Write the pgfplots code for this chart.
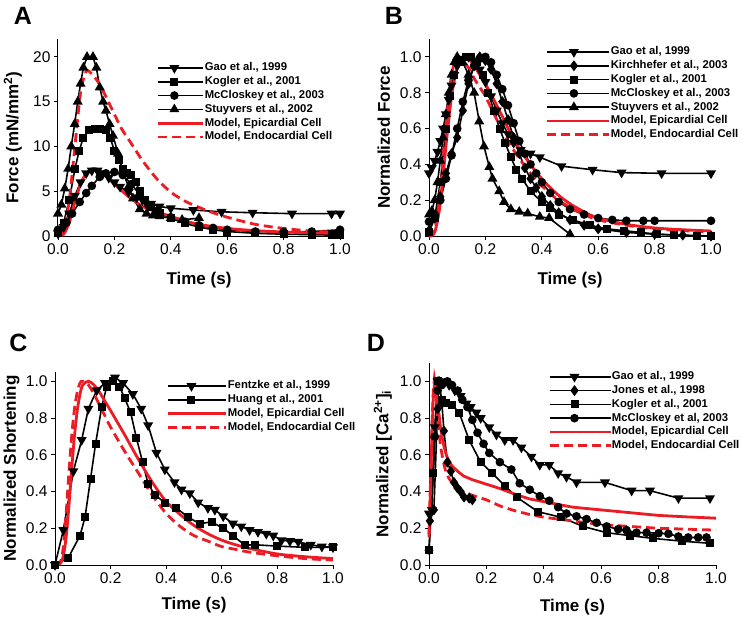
\documentclass[border=0pt]{standalone}
\usepackage{fontspec}
\setmainfont{Liberation Sans}
\usepackage{pgfplots}
\pgfplotsset{compat=1.18}
\definecolor{mred}{RGB}{237,28,36}
\pgfplotsset{
 panel/.style={
  scale only axis,
  axis x line*=bottom, axis y line*=left,
  xmin=0, xmax=1,
  xtick={0,0.2,0.4,0.6,0.8,1.0},
  tick align=outside,
  major tick length=4pt,
  tick style={black, line width=0.9pt},
  axis line style={black, line width=1pt},
  /pgf/number format/assume math mode=true,
  xticklabel style={/pgf/number format/.cd,fixed,fixed zerofill,precision=1},
  tick label style={font=\fontsize{15.5}{17}\selectfont},
  label style={font=\bfseries\fontsize{17}{20}\selectfont},
  clip=false,
  legend cell align=left,
  legend style={draw=none, fill=none, anchor=north west, inner sep=0pt, outer sep=0pt,
    font=\bfseries\fontsize{11.3}{13}\selectfont,
    nodes={inner sep=0pt, text height=8.5pt, text depth=2.5pt},
    row sep=2.8pt},
 },
 normy/.style={ytick={0,0.2,0.4,0.6,0.8,1.0},
   yticklabel style={/pgf/number format/.cd,fixed,fixed zerofill,precision=1}},
 leg/.style 2 args={legend image code/.code={%
   \draw[mark repeat=2,mark phase=2,##1] plot coordinates {(0pt,0pt) ({0.5*#1},0pt) (#1,0pt)};
   \path (0pt,0pt) -- (#2,0pt);}},
 dat/.style={black, line width=1.6pt},
 mdown/.style={dat, mark=triangle*, mark size=4.2pt, mark options={solid,fill=black,rotate=180}},
 mup/.style={dat, mark=triangle*, mark size=4.2pt, mark options={solid,fill=black}},
 msq/.style={dat, mark=square*, mark size=3.2pt, mark options={solid,fill=black}},
 mci/.style={dat, mark=*, mark size=3.5pt, mark options={solid,fill=black}},
 mdi/.style={dat, mark=diamond*, mark size=4.2pt, mark options={solid,fill=black}},
 epi/.style={mred, line width=2.8pt, no marks},
 endo/.style={mred, line width=2.8pt, no marks, dash pattern=on 9pt off 5pt},
}
\begin{document}
\begin{tikzpicture}
\path[use as bounding box] (0pt,0pt) rectangle (742pt,-621pt);
% ---------------- A
\begin{axis}[panel, at={(58pt,-236pt)}, anchor=south west, width=282pt, height=197pt,
  ymin=0, ymax=22, ytick={0,5,10,15,20},
  xlabel={Time (s)}, ylabel={Force (mN/mm\textsuperscript{2})},
  xlabel style={at={(axis description cs:0.5,-0.223)}, anchor=center},
  ylabel style={at={(axis description cs:-0.16,0.5)}, anchor=center},
  leg={32pt}{45pt}, legend style={at={(0.351,0.881)}}]
\addplot[mdown] coordinates {(0,0.3)(0.02,1.0)(0.04,2.5)(0.06,4.5)(0.08,6.0)(0.1,7.0)(0.12,7.3)(0.14,7.3)(0.16,7.0)(0.18,6.5)(0.2,6.0)(0.22,5.5)(0.25,4.9)(0.28,4.3)(0.3,4.0)(0.33,3.6)(0.36,3.3)(0.4,3.1)(0.48,2.9)(0.58,2.7)(0.69,2.6)(0.83,2.5)(0.97,2.5)(1.0,2.5)};
\addlegendentry{Gao et al., 1999}
\addplot[msq] coordinates {(0,0.3)(0.02,1.5)(0.04,4.0)(0.06,7.5)(0.075,9.5)(0.09,11.0)(0.11,11.8)(0.13,12.0)(0.15,12.0)(0.17,11.8)(0.185,11.0)(0.2,9.5)(0.215,8.5)(0.23,7.5)(0.245,7.0)(0.26,6.8)(0.275,6.0)(0.29,5.0)(0.31,4.0)(0.33,3.2)(0.36,2.6)(0.4,2.0)(0.45,1.4)(0.5,1.0)(0.55,0.7)(0.6,0.5)(0.7,0.3)(0.8,0.2)(0.9,0.15)(0.97,0.1)(1.0,0.1)};
\addlegendentry{Kogler et al., 2001}
\addplot[mci] coordinates {(0,0.7)(0.03,1.5)(0.05,2.5)(0.077,3.8)(0.1,4.8)(0.12,5.6)(0.148,6.6)(0.17,7.0)(0.2,7.15)(0.23,6.8)(0.26,5.8)(0.29,4.6)(0.32,3.5)(0.35,2.8)(0.4,2.1)(0.45,1.6)(0.5,1.2)(0.55,0.9)(0.6,0.7)(0.7,0.5)(0.8,0.45)(0.9,0.5)(1.0,0.7)};
\addlegendentry{McCloskey et al., 2003}
\addplot[mup] coordinates {(0,2.5)(0.012,3.5)(0.024,5.3)(0.036,7.5)(0.047,10.0)(0.059,12.5)(0.07,15.0)(0.08,17.0)(0.09,18.8)(0.103,20.0)(0.124,20.0)(0.136,18.8)(0.148,16.6)(0.16,15.0)(0.17,14.0)(0.183,12.5)(0.195,11.2)(0.213,9.2)(0.23,7.2)(0.25,5.5)(0.266,4.2)(0.29,3.0)(0.314,2.5)(0.337,2.3)(0.36,2.2)(0.4,2.0)(0.44,1.8)(0.5,2.0)};
\addlegendentry{Stuyvers et al., 2002}
\addplot[epi, smooth] coordinates {(0,0)(0.02,0.2)(0.04,1.5)(0.06,3.8)(0.08,5.8)(0.1,7.0)(0.12,7.5)(0.14,7.4)(0.16,7.0)(0.18,6.4)(0.2,5.8)(0.25,4.4)(0.3,3.3)(0.35,2.7)(0.4,2.2)(0.45,1.7)(0.5,1.3)(0.6,0.85)(0.7,0.6)(0.8,0.45)(0.9,0.35)(1.0,0.3)};
\addlegendentry{Model, Epicardial Cell}
\addplot[endo, smooth] coordinates {(0,0)(0.02,0.5)(0.04,4.0)(0.06,10.0)(0.08,16.0)(0.1,18.4)(0.12,18.1)(0.14,17.3)(0.16,16.2)(0.18,14.9)(0.2,13.6)(0.225,12.0)(0.25,10.8)(0.275,9.6)(0.3,8.4)(0.35,6.4)(0.4,4.9)(0.45,3.9)(0.5,3.2)(0.55,2.6)(0.6,2.1)(0.7,1.3)(0.8,0.85)(0.9,0.55)(1.0,0.4)};
\addlegendentry{Model, Endocardial Cell}
\end{axis}
% ---------------- B
\begin{axis}[panel, normy, at={(429pt,-236pt)}, anchor=south west, width=282pt, height=197pt,
  ymin=0, ymax=1.1,
  xlabel={Time (s)}, ylabel={Normalized Force},
  xlabel style={at={(axis description cs:0.5,-0.223)}, anchor=center},
  ylabel style={at={(axis description cs:-0.16,0.5)}, anchor=center},
  leg={53pt}{62pt}, legend style={at={(0.415,0.962)}}]
\addplot[mdown] coordinates {(0,0.35)(0.01,0.38)(0.02,0.42)(0.03,0.47)(0.04,0.53)(0.05,0.6)(0.06,0.68)(0.07,0.76)(0.08,0.84)(0.09,0.9)(0.1,0.95)(0.12,0.99)(0.14,1.0)(0.16,0.98)(0.18,0.93)(0.2,0.86)(0.22,0.78)(0.24,0.7)(0.26,0.63)(0.28,0.57)(0.3,0.52)(0.325,0.48)(0.36,0.46)(0.393,0.44)(0.47,0.39)(0.58,0.37)(0.683,0.354)(0.825,0.35)(1.0,0.35)};
\addlegendentry{Gao et al, 1999}
\addplot[mdi] coordinates {(0,0.03)(0.02,0.1)(0.04,0.22)(0.06,0.35)(0.08,0.46)(0.1,0.55)(0.12,0.7)(0.14,0.85)(0.16,0.95)(0.18,1.0)(0.2,0.98)(0.22,0.93)(0.24,0.85)(0.26,0.75)(0.28,0.65)(0.3,0.55)(0.32,0.46)(0.34,0.38)(0.36,0.32)(0.38,0.27)(0.4,0.22)(0.43,0.17)(0.46,0.13)(0.5,0.09)(0.55,0.06)(0.6,0.04)(0.7,0.02)(0.8,0.01)(0.9,0.005)(1.0,0)};
\addlegendentry{Kirchhefer et al., 2003}
\addplot[msq] coordinates {(0,0.02)(0.02,0.1)(0.04,0.3)(0.06,0.6)(0.075,0.78)(0.09,0.9)(0.11,0.97)(0.13,1.0)(0.15,1.0)(0.17,0.97)(0.19,0.9)(0.21,0.8)(0.23,0.7)(0.25,0.6)(0.27,0.52)(0.29,0.44)(0.31,0.37)(0.33,0.32)(0.36,0.25)(0.4,0.19)(0.43,0.155)(0.46,0.12)(0.51,0.09)(0.57,0.06)(0.63,0.04)(0.69,0.03)(0.75,0.02)(0.81,0.01)(0.87,0.005)(0.95,0)(1.0,0)};
\addlegendentry{Kogler et al., 2001}
\addplot[mci] coordinates {(0,0.08)(0.02,0.12)(0.04,0.2)(0.06,0.32)(0.08,0.45)(0.1,0.6)(0.12,0.75)(0.14,0.87)(0.16,0.95)(0.18,0.99)(0.2,1.0)(0.22,0.97)(0.24,0.9)(0.26,0.82)(0.28,0.73)(0.3,0.63)(0.32,0.53)(0.34,0.46)(0.36,0.4)(0.38,0.35)(0.4,0.3)(0.43,0.24)(0.46,0.19)(0.5,0.15)(0.55,0.12)(0.6,0.1)(0.65,0.09)(0.7,0.085)(0.76,0.085)(0.8,0.085)(1.0,0.085)};
\addlegendentry{McCloskey et al., 2003}
\addplot[mup] coordinates {(0,0.12)(0.01,0.14)(0.02,0.2)(0.03,0.3)(0.04,0.42)(0.05,0.55)(0.06,0.68)(0.07,0.8)(0.08,0.9)(0.09,0.97)(0.1,1.0)(0.12,0.97)(0.14,0.9)(0.16,0.8)(0.178,0.64)(0.195,0.5)(0.214,0.385)(0.225,0.32)(0.249,0.25)(0.266,0.19)(0.29,0.15)(0.32,0.135)(0.35,0.126)(0.393,0.107)(0.426,0.1)(0.5,0.01)};
\addlegendentry{Stuyvers et al., 2002}
\addplot[epi, smooth] coordinates {(0,0)(0.02,0.02)(0.04,0.18)(0.06,0.5)(0.08,0.78)(0.1,0.94)(0.12,1.0)(0.14,0.99)(0.16,0.95)(0.18,0.9)(0.2,0.85)(0.25,0.7)(0.3,0.54)(0.35,0.42)(0.4,0.32)(0.45,0.24)(0.5,0.18)(0.55,0.135)(0.6,0.1)(0.7,0.065)(0.8,0.045)(0.9,0.035)(1.0,0.028)};
\addlegendentry{Model, Epicardial Cell}
\addplot[endo, smooth] coordinates {(0,0)(0.02,0.03)(0.04,0.25)(0.06,0.62)(0.08,0.9)(0.1,1.0)(0.12,0.98)(0.14,0.94)(0.16,0.88)(0.18,0.83)(0.2,0.78)(0.25,0.62)(0.3,0.48)(0.35,0.37)(0.4,0.28)(0.45,0.21)(0.5,0.16)(0.55,0.12)(0.6,0.09)(0.7,0.06)(0.8,0.04)(0.9,0.03)(1.0,0.022)};
\addlegendentry{Model, Endocardial Cell}
\end{axis}
% ---------------- C
\begin{axis}[panel, normy, at={(55pt,-565pt)}, anchor=south west, width=278pt, height=193pt,
  ymin=0, ymax=1.05,
  xlabel={Time (s)}, ylabel={Normalized Shortening},
  xlabel style={at={(axis description cs:0.5,-0.207)}, anchor=center},
  ylabel style={at={(axis description cs:-0.156,0.5)}, anchor=center},
  leg={46pt}{58pt}, legend style={at={(0.403,0.956)}}]
\addplot[mdown] coordinates {(0,0)(0.03,0.19)(0.066,0.51)(0.096,0.68)(0.12,0.85)(0.15,0.95)(0.18,0.99)(0.216,1.02)(0.245,0.99)(0.28,0.93)(0.31,0.85)(0.335,0.76)(0.365,0.61)(0.395,0.52)(0.43,0.45)(0.455,0.41)(0.485,0.39)(0.515,0.34)(0.55,0.31)(0.575,0.3)(0.605,0.265)(0.64,0.225)(0.67,0.21)(0.7,0.19)(0.73,0.18)(0.76,0.17)(0.785,0.16)(0.815,0.135)(0.845,0.13)(0.875,0.126)(0.92,0.11)(0.96,0.1)(1.0,0.096)};
\addlegendentry{Fentzke et al., 1999}
\addplot[msq] coordinates {(0,0)(0.048,0.04)(0.09,0.16)(0.108,0.26)(0.128,0.47)(0.146,0.66)(0.168,0.86)(0.186,0.97)(0.21,1.0)(0.232,0.97)(0.25,0.91)(0.272,0.83)(0.293,0.69)(0.315,0.56)(0.335,0.44)(0.36,0.38)(0.395,0.34)(0.437,0.31)(0.479,0.26)(0.52,0.225)(0.563,0.234)(0.605,0.2)(0.64,0.16)(0.683,0.108)(0.72,0.11)(0.797,0.103)(0.9,0.096)(1.0,0.096)};
\addlegendentry{Huang et al., 2001}
\addplot[epi, smooth] coordinates {(0,0)(0.02,0.01)(0.03,0.05)(0.04,0.15)(0.05,0.32)(0.06,0.52)(0.07,0.7)(0.08,0.84)(0.09,0.93)(0.1,0.98)(0.12,1.0)(0.14,0.98)(0.16,0.94)(0.18,0.89)(0.2,0.84)(0.25,0.71)(0.3,0.575)(0.35,0.45)(0.4,0.345)(0.45,0.275)(0.5,0.215)(0.55,0.17)(0.6,0.135)(0.65,0.11)(0.7,0.09)(0.8,0.06)(0.9,0.045)(1.0,0.035)};
\addlegendentry{Model, Epicardial Cell}
\addplot[endo, smooth] coordinates {(0,0)(0.02,0.02)(0.03,0.1)(0.04,0.28)(0.05,0.5)(0.06,0.7)(0.07,0.85)(0.08,0.94)(0.09,0.99)(0.1,1.0)(0.12,0.98)(0.14,0.93)(0.16,0.87)(0.18,0.81)(0.2,0.75)(0.25,0.62)(0.3,0.5)(0.35,0.38)(0.4,0.28)(0.45,0.21)(0.5,0.16)(0.55,0.13)(0.6,0.1)(0.65,0.085)(0.7,0.07)(0.8,0.05)(0.9,0.035)(1.0,0.027)};
\addlegendentry{Model, Endocardial Cell}
\end{axis}
% ---------------- D
\begin{axis}[panel, normy, at={(429pt,-565pt)}, anchor=south west, width=287pt, height=202pt,
  ymin=0, ymax=1.1,
  xlabel={Time (s)}, ylabel={Normalized [Ca\textsuperscript{2+}]\textsubscript{i}},
  xlabel style={at={(axis description cs:0.5,-0.206)}, anchor=center},
  ylabel style={at={(axis description cs:-0.161,0.5)}, anchor=center},
  leg={50pt}{61pt}, legend style={at={(0.415,0.959)}}]
\addplot[mdown] coordinates {(0,0.28)(0.01,0.3)(0.02,0.75)(0.03,1.0)(0.045,1.0)(0.07,0.98)(0.09,0.95)(0.11,0.92)(0.13,0.88)(0.145,0.86)(0.165,0.83)(0.18,0.8)(0.21,0.75)(0.235,0.71)(0.264,0.68)(0.293,0.68)(0.322,0.64)(0.357,0.59)(0.386,0.545)(0.419,0.545)(0.45,0.5)(0.479,0.48)(0.514,0.45)(0.613,0.45)(0.706,0.405)(0.77,0.405)(0.869,0.364)(0.979,0.364)};
\addlegendentry{Gao et al., 1999}
\addplot[mdi] coordinates {(0.003,0.24)(0.017,0.3)(0.03,0.85)(0.035,1.0)(0.045,0.88)(0.052,0.73)(0.064,0.56)(0.076,0.51)(0.087,0.45)(0.099,0.42)(0.11,0.4)(0.122,0.37)(0.14,0.364)(0.151,0.355)};
\addlegendentry{Jones et al., 1998}
\addplot[msq] coordinates {(0,0.08)(0.015,0.5)(0.03,1.0)(0.045,0.9)(0.058,0.88)(0.08,0.87)(0.105,0.83)(0.14,0.68)(0.18,0.56)(0.22,0.5)(0.265,0.43)(0.305,0.37)(0.38,0.29)(0.46,0.26)(0.537,0.21)(0.619,0.176)(0.7,0.16)(0.78,0.145)(0.88,0.13)(0.98,0.118)};
\addlegendentry{Kogler et al., 2001}
\addplot[mci] coordinates {(0,0.08)(0.02,0.7)(0.03,0.95)(0.045,0.98)(0.064,1.0)(0.08,0.98)(0.1,0.95)(0.116,0.9)(0.134,0.86)(0.151,0.79)(0.169,0.72)(0.19,0.66)(0.21,0.61)(0.247,0.56)(0.287,0.52)(0.316,0.445)(0.351,0.41)(0.386,0.375)(0.419,0.35)(0.45,0.315)(0.479,0.28)(0.514,0.265)(0.549,0.25)(0.584,0.23)(0.619,0.21)(0.659,0.195)(0.688,0.19)(0.723,0.176)(0.758,0.176)(0.8,0.173)(0.834,0.17)(0.869,0.155)(0.903,0.15)(0.938,0.15)(0.967,0.15)};
\addlegendentry{McCloskey et al, 2003}
\addplot[epi] coordinates {(0,0.17)(0.005,0.4)(0.01,0.7)(0.015,0.92)(0.02,1.0)(0.025,0.95)(0.03,0.88)(0.035,0.82)(0.04,0.75)(0.05,0.66)(0.06,0.6)(0.07,0.565)(0.08,0.54)(0.1,0.51)(0.12,0.485)(0.15,0.465)(0.2,0.44)(0.25,0.415)(0.3,0.385)(0.35,0.36)(0.4,0.345)(0.45,0.33)(0.5,0.315)(0.6,0.3)(0.7,0.285)(0.8,0.27)(0.9,0.262)(1.0,0.255)};
\addlegendentry{Model, Epicardial Cell}
\addplot[endo] coordinates {(0,0.15)(0.005,0.45)(0.01,0.75)(0.015,0.95)(0.018,1.0)(0.025,0.9)(0.03,0.8)(0.035,0.72)(0.04,0.65)(0.05,0.56)(0.06,0.5)(0.07,0.47)(0.08,0.45)(0.1,0.42)(0.12,0.4)(0.15,0.38)(0.2,0.355)(0.25,0.32)(0.3,0.295)(0.35,0.275)(0.4,0.26)(0.45,0.25)(0.5,0.24)(0.6,0.22)(0.7,0.21)(0.8,0.2)(0.9,0.195)(1.0,0.19)};
\addlegendentry{Model, Endocardial Cell}
\end{axis}
\node[font=\bfseries\fontsize{25}{30}\selectfont] at (23pt,-16pt) {A};
\node[font=\bfseries\fontsize{25}{30}\selectfont] at (394pt,-16pt) {B};
\node[font=\bfseries\fontsize{25}{30}\selectfont] at (18.5pt,-342.5pt) {C};
\node[font=\bfseries\fontsize{25}{30}\selectfont] at (376pt,-342.5pt) {D};
\end{tikzpicture}
\end{document}
